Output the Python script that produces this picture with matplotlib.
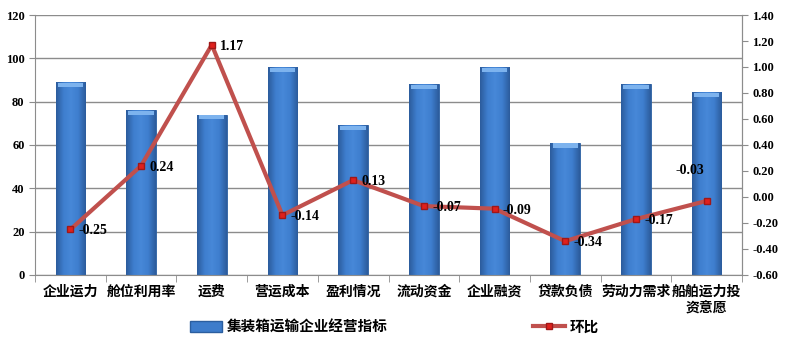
import numpy as np
import matplotlib
matplotlib.use('Agg')
from matplotlib import pyplot as plt
from matplotlib.lines import Line2D
from matplotlib.patches import Patch
from matplotlib.colors import LinearSegmentedColormap

plt.rcParams['font.family'] = ['Noto Sans CJK SC', 'DejaVu Sans']

# Dados
categorias = ['企业运力', '舱位利用率', '运费', '营运成本', '盈利情况',
              '流动资金', '企业融资', '贷款负债', '劳动力需求', '船舶运力投\n资意愿']
indicador = [89, 76, 74, 96, 69, 88, 96, 61, 88, 84.5]
huanbi = [-0.25, 0.24, 1.17, -0.14, 0.13, -0.07, -0.09, -0.34, -0.17, -0.03]

num_font = {'family': 'Liberation Serif', 'weight': 'bold'}
cmap_barra = LinearSegmentedColormap.from_list('barra', ['#2C5C9C', '#3E7ECE', '#4788D8', '#3E7ECE', '#2C5C9C'])

fig = plt.figure(figsize=(7.89, 3.53), dpi=100)
ax = fig.add_axes([0.0444, 0.221, 0.896, 0.7365])
x = np.arange(len(categorias))

# Barras com degrade
barras = ax.bar(x, indicador, width=0.42, color='#3D7CCB', edgecolor='#2B5E9F',
                linewidth=0.6, zorder=2)
grad = np.linspace(0, 1, 64).reshape(1, -1)
for b in barras:
    x0, w, h = b.get_x(), b.get_width(), b.get_height()
    im = ax.imshow(grad, cmap=cmap_barra, aspect='auto', extent=(x0, x0 + w, 0, h),
                   zorder=2.1)
    im.set_clip_path(b)
    ax.fill_between([x0 + 0.03, x0 + w - 0.03], h - 2.2, h - 0.3, color='#7DB3EE',
                    zorder=2.2, linewidth=0)
ax.set_ylim(0, 120)
ax.set_xlim(-0.5, len(categorias) - 0.5)
ax.set_yticks(range(0, 121, 20))
ax.yaxis.grid(True, color='#8c8c8c', linewidth=1.0, zorder=0)
ax.set_axisbelow(True)
ax.spines['top'].set_visible(False)
for s in ['left', 'bottom', 'right']:
    ax.spines[s].set_color('#8c8c8c')
ax.tick_params(axis='y', colors='#8c8c8c', length=4, labelcolor='black')
for lbl in ax.get_yticklabels():
    lbl.set_fontproperties(num_font)
    lbl.set_fontsize(9)

# Eixo x: rotulos nos centros, marcas entre categorias
ax.set_xticks(x)
ax.set_xticklabels(categorias, fontsize=10, fontweight='bold', linespacing=1.3)
ax.tick_params(axis='x', length=0, pad=7)
ax.set_xticks(np.arange(-0.5, len(categorias)), minor=True)
ax.tick_params(axis='x', which='minor', length=5, colors='#8c8c8c')

# Linha (eixo secundario)
ax2 = ax.twinx()
ax2.set_ylim(-0.6, 1.4)
ax2.set_yticks(np.arange(-0.6, 1.41, 0.2))
ax2.set_yticklabels(['%.2f' % v for v in np.arange(-0.6, 1.41, 0.2)])
for lbl in ax2.get_yticklabels():
    lbl.set_fontproperties(num_font)
    lbl.set_fontsize(9)
ax2.tick_params(axis='y', colors='#8c8c8c', length=4, labelcolor='black')
ax2.spines['top'].set_visible(False)
ax2.spines['right'].set_color('#8c8c8c')
ax2.spines['left'].set_visible(False)
ax2.spines['bottom'].set_visible(False)
ax2.plot(x, huanbi, color='#C0504D', linewidth=3, marker='s', markersize=5,
         markerfacecolor='#E0201C', markeredgecolor='#A01818', zorder=3)

for i, v in enumerate(huanbi):
    if i == len(huanbi) - 1:
        ax2.annotate('%.2f' % v, (i, v), xytext=(-2, 22), textcoords='offset points',
                     ha='right', va='center', fontproperties=num_font, fontsize=10)
    else:
        ax2.annotate('%.2f' % v, (i, v), xytext=(6, -1), textcoords='offset points',
                     ha='left', va='center', fontproperties=num_font, fontsize=10)

# Legenda
h1 = Patch(facecolor='#3D7CCB', edgecolor='#2B5E9F')
h2 = Line2D([], [], color='#C0504D', linewidth=3, marker='s', markersize=5,
            markerfacecolor='#E0201C', markeredgecolor='#A01818')
fig.legend([h1, h2], ['集装箱运输企业经营指标', '环比'], loc='center',
           bbox_to_anchor=(0.5, 0.075), ncol=2, frameon=False, columnspacing=10,
           prop={'size': 10.5, 'weight': 'bold'}, handlelength=2.2, handletextpad=0.3)

fig.savefig('out.png', dpi=100)
